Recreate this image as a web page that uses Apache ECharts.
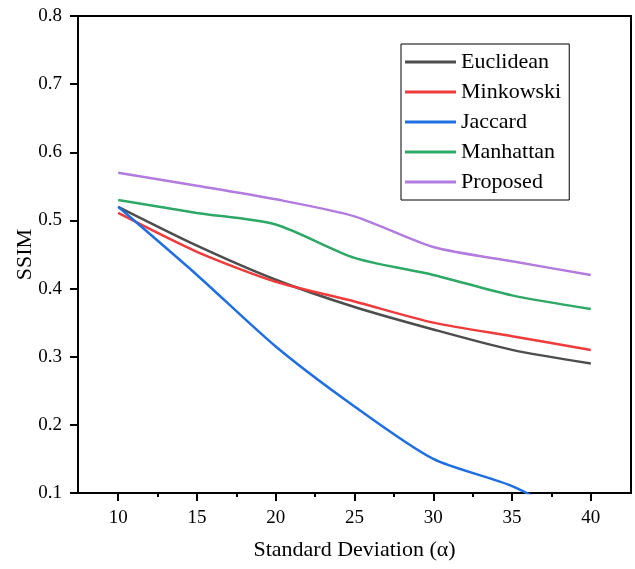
<!DOCTYPE html>
<html>
<head>
<meta charset="utf-8">
<script src="https://cdn.jsdelivr.net/npm/echarts@6/dist/echarts.min.js"></script>
<style>
html, body { margin: 0; padding: 0; background: #fff; }
#chart { width: 635px; height: 569px; }
</style>
</head>
<body>
<div id="chart"></div>
<script>
// SSIM vs standard deviation
var xValues = [10, 15, 20, 25, 30, 35, 40];
var minorTicks = [12.5, 17.5, 22.5, 27.5, 32.5, 37.5];
var euclidean = [0.52, 0.463, 0.413, 0.373, 0.34, 0.31, 0.29];
var minkowski = [0.511, 0.454, 0.41, 0.381, 0.35, 0.33, 0.31];
var jaccard = [0.52, 0.42, 0.315, 0.227, 0.15, 0.11, 0.05];
var manhattan = [0.53, 0.511, 0.494, 0.445, 0.42, 0.39, 0.37];
var proposed = [0.57, 0.551, 0.531, 0.506, 0.461, 0.44, 0.42];

function pairs(ys) {
    return xValues.map(function (x, i) { return [x, ys[i]]; });
}

var font = '"Liberation Serif", "Times New Roman", serif';
var chart = echarts.init(document.getElementById('chart'));

function line(name, color, ys) {
    return {
        name: name,
        type: 'line',
        data: pairs(ys),
        smooth: 0.25,
        symbol: 'none',
        clip: true,
        lineStyle: { color: color, width: 2.5 },
        itemStyle: { color: color }
    };
}

option = {
    backgroundColor: '#fff',
    animation: false,
    grid: {
        left: 78,
        right: 4,
        top: 16,
        bottom: 76,
        show: true,
        borderColor: '#000',
        borderWidth: 2
    },
    legend: {
        orient: 'vertical',
        left: 401,
        top: 44,
        icon: 'rect',
        borderColor: '#000',
        borderWidth: 1,
        padding: [6, 8, 6, 4],
        itemWidth: 51,
        itemHeight: 3,
        itemGap: 6,
        textStyle: { fontFamily: font, fontSize: 22, color: '#000', lineHeight: 24 }
    },
    xAxis: [
        {
            type: 'value',
            min: 7.45,
            max: 42.55,
            name: 'Standard Deviation (α)',
            nameLocation: 'middle',
            nameGap: 46,
            nameMoveOverlap: false,
            nameTextStyle: { fontFamily: font, fontSize: 22, color: '#000' },
            axisLine: { lineStyle: { color: '#000', width: 2 } },
            axisTick: { customValues: xValues, inside: false, length: 8, lineStyle: { color: '#000', width: 2 } },
            axisLabel: { customValues: xValues, margin: 16, fontFamily: font, fontSize: 19, color: '#000' },
            splitLine: { show: false }
        },
        {
            type: 'value',
            min: 7.45,
            max: 42.55,
            position: 'bottom',
            axisLine: { show: false },
            axisTick: { customValues: minorTicks, length: 4, lineStyle: { color: '#000', width: 2 } },
            axisLabel: { show: false },
            splitLine: { show: false }
        }
    ],
    yAxis: {
        type: 'value',
        min: 0.1,
        max: 0.8,
        interval: 0.1,
        name: 'SSIM',
        nameLocation: 'middle',
        nameGap: 42,
        nameMoveOverlap: false,
        nameTextStyle: { fontFamily: font, fontSize: 22, color: '#000' },
        axisLine: { show: true, lineStyle: { color: '#000', width: 2 } },
        axisTick: { show: true, length: 8, lineStyle: { color: '#000', width: 2 } },
        axisLabel: {
            margin: 16,
            fontFamily: font,
            fontSize: 19,
            color: '#000',
            formatter: function (v) { return v.toFixed(1); }
        },
        splitLine: { show: false }
    },
    series: [
        line('Euclidean', '#4d4d4d', euclidean),
        line('Minkowski', '#ef3b3b', minkowski),
        line('Jaccard', '#1f6fe0', jaccard),
        line('Manhattan', '#2ea866', manhattan),
        line('Proposed', '#b27be0', proposed)
    ]
};
chart.setOption(option);
</script>
</body>
</html>
